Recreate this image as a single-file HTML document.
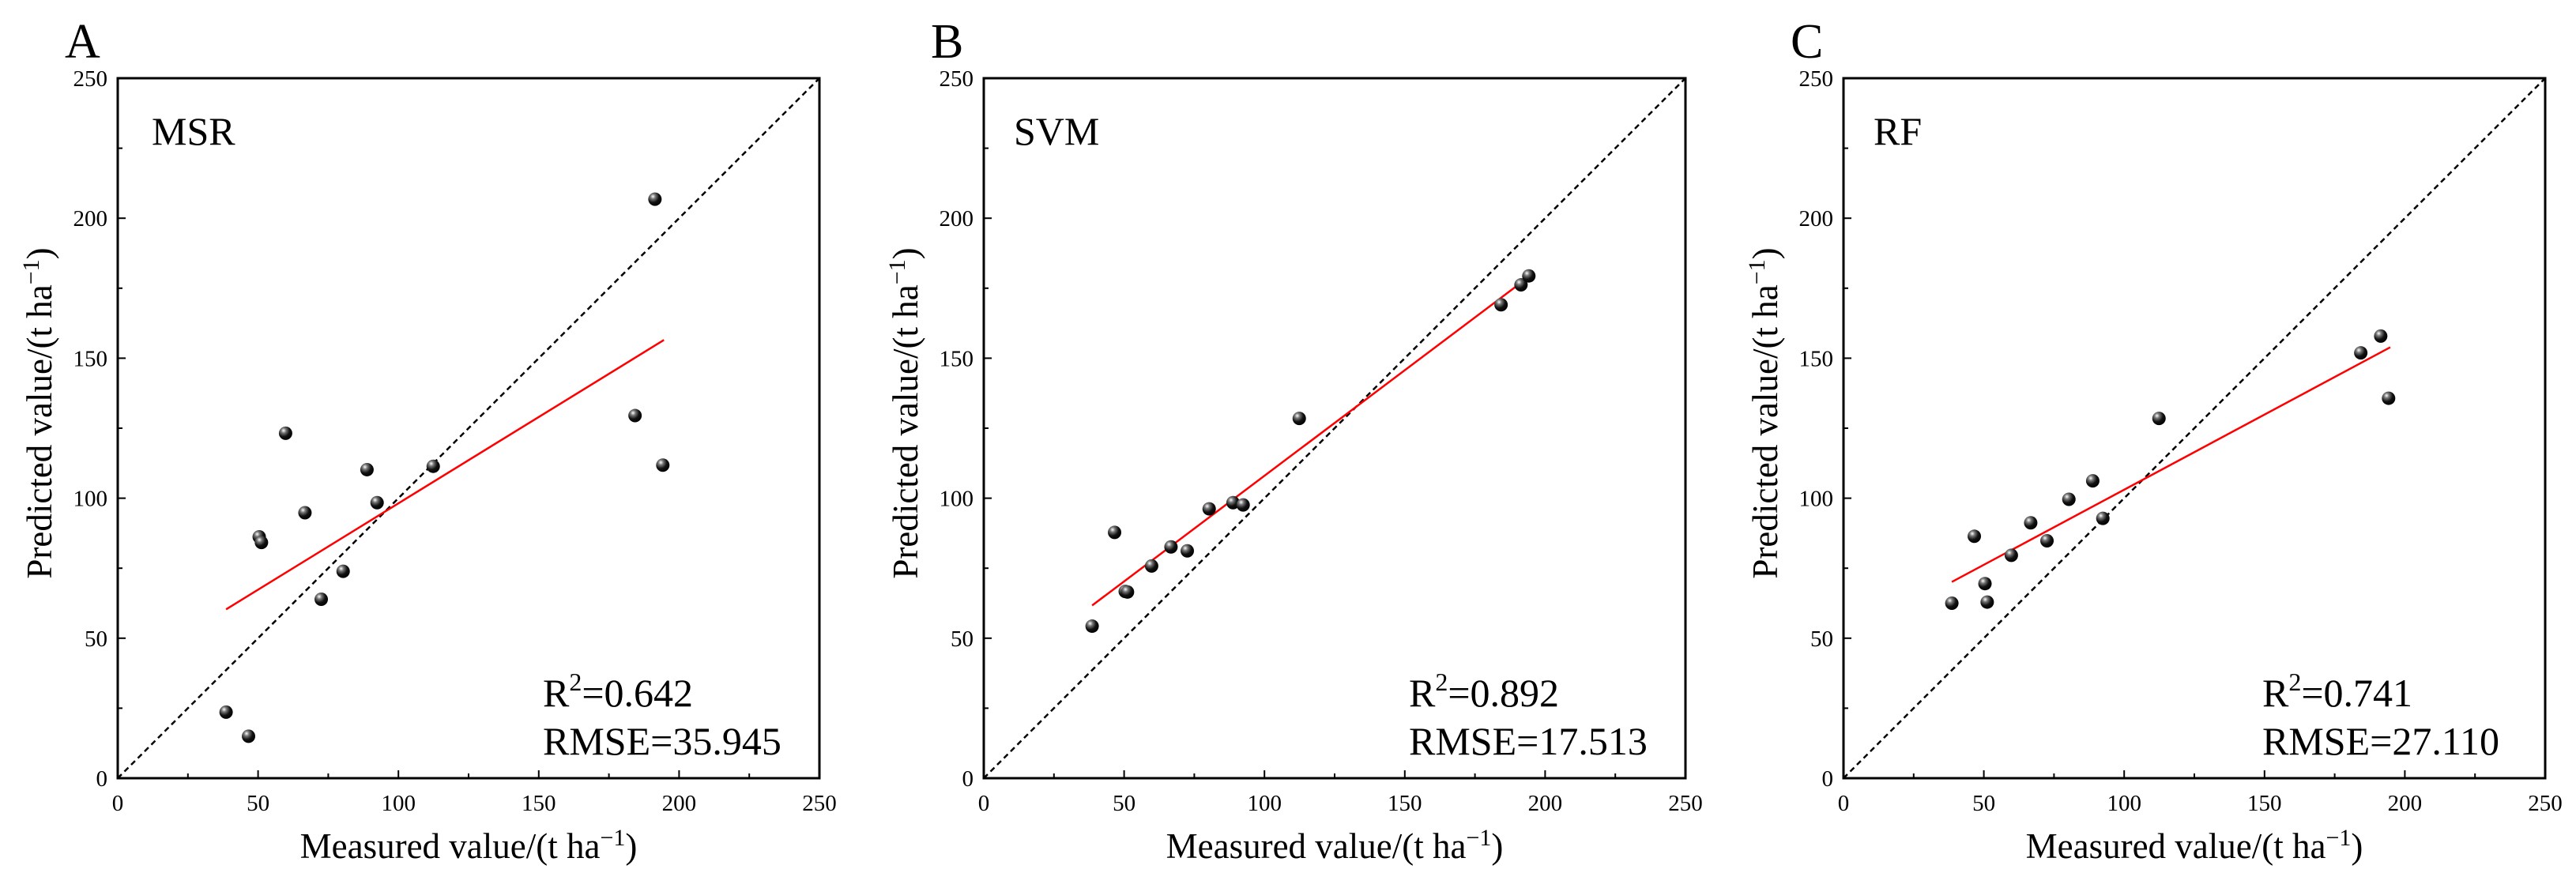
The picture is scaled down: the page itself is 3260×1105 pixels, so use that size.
<!DOCTYPE html>
<html><head><meta charset="utf-8">
<style>
html,body{margin:0;padding:0;background:#fff;}
svg{display:block;font-family:"Liberation Serif",serif;}
</style></head>
<body>
<svg id="fig" width="3260" height="1105" viewBox="0 0 3260 1105" xmlns="http://www.w3.org/2000/svg">
<defs>
<radialGradient id="ball" cx="0.35" cy="0.3" r="0.75">
<stop offset="0" stop-color="#ffffff"/>
<stop offset="0.25" stop-color="#777"/>
<stop offset="0.6" stop-color="#111"/>
<stop offset="1" stop-color="#000"/>
</radialGradient>
</defs>
</svg>
<script>
const measured = [38.6,46.6,50.4,51.2,59.8,66.7,72.5,80.3,88.8,92.4,112.4,184.3,191.4,194.2];
const predMSR = [23.6,15,86.2,84.2,123.2,94.8,63.9,73.9,110.2,98.4,111.4,129.5,206.8,111.8];
const predSVM = [54.3,87.8,66.7,66.5,75.8,82.6,81.2,96.2,98.4,97.6,128.5,169.1,176.2,179.4];
const predRF = [62.5,86.4,69.5,62.9,79.6,91.2,84.8,99.6,106.2,92.8,128.5,151.9,157.9,135.7];
const fitMSR = [[38.6,60.3],[194.6,156.5]];
const fitSVM = [[38.6,61.7],[194.4,179.2]];
const fitRF = [[38.6,70.1],[194.8,153.9]];
const tickLabels = ["0","50","100","150","200","250"];
const tickValues = [0,50,100,150,200,250];
const panelLetters = ["A","B","C"];
const modelNames = ["MSR","SVM","RF"];
const r2Values = ["0.642","0.892","0.741"];
const rmseValues = ["35.945","17.513","27.110"];

const NS="http://www.w3.org/2000/svg";
const svg=document.getElementById('fig');
function mk(tag,attrs,parent){const e=document.createElementNS(NS,tag);for(const k in attrs)e.setAttribute(k,attrs[k]);(parent||svg).appendChild(e);return e;}

const panels=[
 {left:149,pred:predMSR,fit:fitMSR},
 {left:1245,pred:predSVM,fit:fitSVM},
 {left:2333,pred:predRF,fit:fitRF}
];
const W=888,TOP=99,BOT=985,H=BOT-TOP;

panels.forEach((p,i)=>{
 const g=mk('g',{});
 
 
 const L=p.left;
 const sx=v=>L+v/250*W;
 const sy=v=>BOT-v/250*H;
 // 1:1 line
 const d=mk('line',{x1:sx(0),y1:sy(0),x2:sx(250),y2:sy(250),stroke:'#000','stroke-width':2.5,'stroke-dasharray':'7,5'},g);
 
 
 // fit
 const f=mk('line',{x1:sx(p.fit[0][0]),y1:sy(p.fit[0][1]),x2:sx(p.fit[1][0]),y2:sy(p.fit[1][1]),stroke:'#ff0000','stroke-width':2.5},g);
 
 
 // points
 measured.forEach((m,k)=>{
  const c=mk('circle',{cx:sx(m),cy:sy(p.pred[k]),r:8.5,fill:'url(#ball)'},g);
  
  
 });
 // frame
 const fr=mk('rect',{x:L,y:TOP,width:W,height:H,fill:'none',stroke:'#000','stroke-width':3},g);
 
 
 // ticks
 for(let v=0;v<=250;v+=25){
  const major=v%50===0, len=major?10:6;
  mk('line',{x1:sx(v),y1:BOT,x2:sx(v),y2:BOT-len,stroke:'#000','stroke-width':2},g);
  mk('line',{x1:L,y1:sy(v),x2:L+len,y2:sy(v),stroke:'#000','stroke-width':2},g);
 }
 tickValues.forEach((v,k)=>{
  const tx=mk('text',{x:sx(v),y:1026,'font-size':29,'text-anchor':'middle',fill:'#000'},g);
  tx.textContent=tickLabels[k];
  
  
  const ty=mk('text',{x:L-13,y:sy(v)+10,'font-size':29,'text-anchor':'end',fill:'#000'},g);
  ty.textContent=tickLabels[k];
  
  
 });
 // x title
 const xt=mk('text',{x:L+W/2,y:1086,'font-size':45,'text-anchor':'middle',fill:'#000'},g);
 xt.innerHTML='Measured value/(t ha<tspan dy="-16" font-size="30">−1</tspan><tspan dy="16">)</tspan>';
 
 
 // y title
 const yt=mk('text',{x:0,y:0,'font-size':45,'text-anchor':'middle',fill:'#000',transform:`translate(${L-84},523) rotate(-90)`},g);
 yt.innerHTML='Predicted value/(t ha<tspan dy="-16" font-size="30">−1</tspan><tspan dy="16">)</tspan>';
 
 
 // panel letter
 const pl=mk('text',{x:L-67,y:73,'font-size':62,fill:'#000'},g);
 pl.textContent=panelLetters[i];
 
 
 // model name
 const mn=mk('text',{x:L+ (i===0?43:(i===1?38:38)),y:183,'font-size':50,fill:'#000'},g);
 mn.textContent=modelNames[i];
 
 
 // stats
 const sxo=i===2?530:538;
 const r2=mk('text',{x:L+sxo,y:894,'font-size':50,fill:'#000'},g);
 r2.innerHTML='R<tspan dy="-20" font-size="32">2</tspan><tspan dy="20">='+r2Values[i]+'</tspan>';
 
 
 const rm=mk('text',{x:L+sxo,y:955,'font-size':50,fill:'#000'},g);
 rm.textContent='RMSE='+rmseValues[i];
 
 
});
</script>
</body></html>
